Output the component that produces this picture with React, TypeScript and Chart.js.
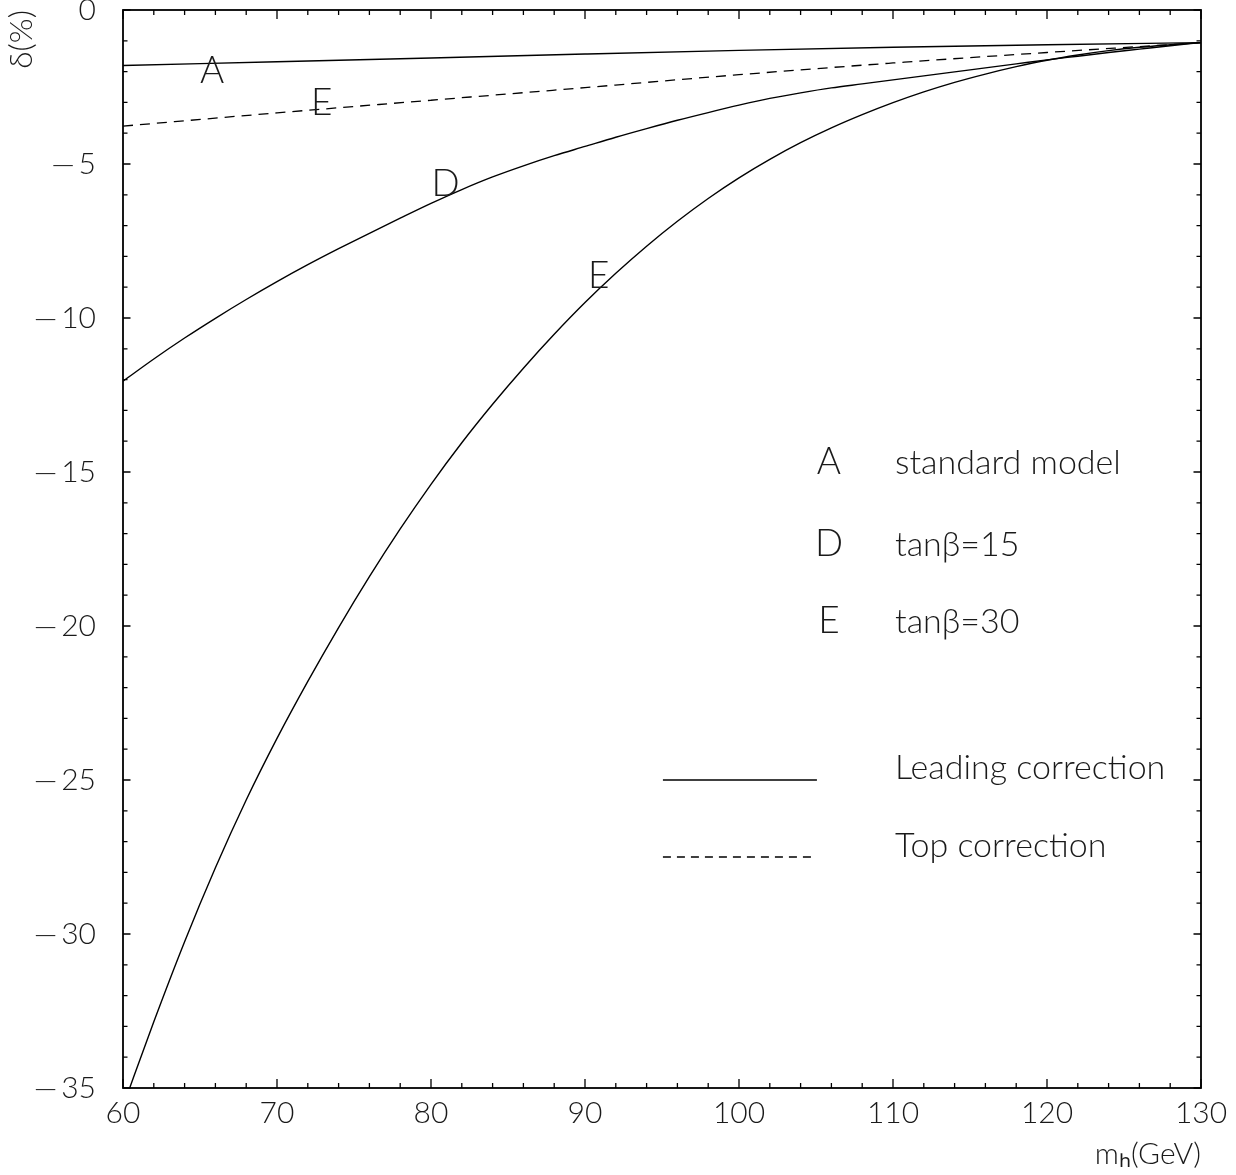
import React, { useEffect, useRef } from "react";
import { Chart, registerables } from "chart.js";

Chart.register(...registerables);

// ---- data ----
const massCoarse = [60, 70, 80, 90, 100, 110, 120, 130];
const massFine = [
  60, 62, 64, 66, 68, 70, 72, 74, 76, 78, 80, 82, 84, 86, 88, 90, 92, 94,
  96, 98, 100, 102, 104, 106, 108, 110, 112, 114, 116, 118, 120, 122, 124,
  126, 128, 130,
];
// A: standard model, leading correction
const deltaStandardModel = [-1.8, -1.68, -1.56, -1.43, -1.31, -1.21, -1.13, -1.06];
// E: tanβ=30, top correction (dashed)
const deltaTopTan30 = [-3.77, -3.34, -2.93, -2.52, -2.1, -1.72, -1.38, -1.06];
// D: tanβ=15, leading correction
const deltaLeadingTan15 = [
  -12.05, -11.33, -10.65, -10.01, -9.4, -8.82, -8.27, -7.75, -7.25, -6.76,
  -6.28, -5.83, -5.42, -5.06, -4.73, -4.43, -4.13, -3.85, -3.58, -3.33,
  -3.09, -2.87, -2.69, -2.53, -2.4, -2.27, -2.14, -2.01, -1.88, -1.75,
  -1.62, -1.5, -1.38, -1.27, -1.16, -1.06,
];
// E: tanβ=30, leading correction
const deltaLeadingTan30 = [
  -35.6, -32.85, -30.25, -27.85, -25.65, -23.65, -21.8, -20.05, -18.4, -16.85,
  -15.4, -14.05, -12.8, -11.63, -10.53, -9.5, -8.55, -7.67, -6.86, -6.12,
  -5.45, -4.85, -4.31, -3.83, -3.4, -3.01, -2.66, -2.35, -2.08, -1.84,
  -1.63, -1.46, -1.32, -1.21, -1.13, -1.06,
];
const curveLetters = ["A", "E", "D", "E"];
const legendLetters = ["A", "D", "E"];
const legendNames = ["standard model", "tanβ=15", "tanβ=30"];
const lineLegendNames = ["Leading correction", "Top correction"];
const xTitle = "mₕ(GeV)";
const yTitle = "δ(%)";

const FONT = "Lato, 'DejaVu Sans', sans-serif";
const INK = "#1a1a1a";

const toPoints = (xs: number[], ys: number[]) => xs.map((x, i) => ({ x, y: ys[i] }));

const frameTicksPlugin = {
  id: "frameTicks",
  afterDraw(chart: any) {
    const { ctx, chartArea: a, scales } = chart;
    const x = scales.x;
    const y = scales.y;
    ctx.save();
    ctx.strokeStyle = "#000";
    ctx.lineWidth = 1.8;
    ctx.strokeRect(a.left, a.top, a.right - a.left, a.bottom - a.top);
    ctx.lineWidth = 1.3;
    ctx.beginPath();
    for (let v = x.min; v <= x.max + 1e-9; v += 2) {
      const px = x.getPixelForValue(v);
      const len = Math.abs(v % 10) < 1e-9 ? 9 : 5;
      ctx.moveTo(px, a.bottom);
      ctx.lineTo(px, a.bottom - len);
      ctx.moveTo(px, a.top);
      ctx.lineTo(px, a.top + len);
    }
    for (let v = y.min; v <= y.max + 1e-9; v += 1) {
      const py = y.getPixelForValue(v);
      const len = Math.abs(v % 5) < 1e-9 ? 7.5 : 4.5;
      ctx.moveTo(a.left, py);
      ctx.lineTo(a.left + len, py);
      ctx.moveTo(a.right, py);
      ctx.lineTo(a.right - len, py);
    }
    ctx.stroke();
    ctx.restore();
  },
};

const annotationPlugin = {
  id: "curveNotes",
  afterDatasetsDraw(chart: any, _args: any, opts: any) {
    const { ctx, scales } = chart;
    const x = scales.x;
    const y = scales.y;
    ctx.save();
    ctx.fillStyle = INK;
    ctx.textBaseline = "alphabetic";
    // letters on the curves
    ctx.font = `300 ${opts.letterSize}px ${FONT}`;
    ctx.textAlign = "center";
    opts.curveSpots.forEach((s: any, i: number) => {
      ctx.fillText(curveLetters[i], x.getPixelForValue(s.x), y.getPixelForValue(s.y));
    });
    // letter legend
    opts.legendRows.forEach((yy: number, i: number) => {
      ctx.font = `300 ${opts.letterSize}px ${FONT}`;
      ctx.textAlign = "center";
      ctx.fillText(legendLetters[i], x.getPixelForValue(opts.legendLetterX), y.getPixelForValue(yy));
      ctx.font = `300 ${opts.nameSize}px ${FONT}`;
      ctx.textAlign = "left";
      ctx.fillText(legendNames[i], x.getPixelForValue(opts.legendTextX), y.getPixelForValue(yy));
    });
    // line-style legend
    opts.lineRows.forEach((row: any, i: number) => {
      ctx.strokeStyle = "#000";
      ctx.lineWidth = 1.4;
      ctx.setLineDash(i === 0 ? [] : [8, 6]);
      ctx.beginPath();
      ctx.moveTo(x.getPixelForValue(opts.sampleFrom), y.getPixelForValue(row.line));
      ctx.lineTo(x.getPixelForValue(opts.sampleTo), y.getPixelForValue(row.line));
      ctx.stroke();
      ctx.setLineDash([]);
      ctx.font = `300 ${opts.lineNameSize}px ${FONT}`;
      ctx.textAlign = "left";
      ctx.fillText(lineLegendNames[i], x.getPixelForValue(opts.legendTextX), y.getPixelForValue(row.text));
    });
    ctx.restore();
  },
};

export default function App() {
  const canvasRef = useRef<HTMLCanvasElement | null>(null);

  useEffect(() => {
    if (!canvasRef.current) return;
    const tickFont = { family: FONT, size: 30, weight: "300" as any };
    const titleFont = { family: FONT, size: 32, weight: "300" as any };
    const chart = new Chart(canvasRef.current, {
      type: "line",
      data: {
        datasets: [
          {
            label: "A standard model",
            data: toPoints(massCoarse, deltaStandardModel),
            borderColor: "#000",
            borderWidth: 1.4,
            pointRadius: 0,
            cubicInterpolationMode: "monotone",
          },
          {
            label: "E tanβ=30 top correction",
            data: toPoints(massCoarse, deltaTopTan30),
            borderColor: "#000",
            borderWidth: 1.3,
            borderDash: [10, 7],
            pointRadius: 0,
            cubicInterpolationMode: "monotone",
          },
          {
            label: "D tanβ=15",
            data: toPoints(massFine, deltaLeadingTan15),
            borderColor: "#000",
            borderWidth: 1.4,
            pointRadius: 0,
            cubicInterpolationMode: "monotone",
          },
          {
            label: "E tanβ=30",
            data: toPoints(massFine, deltaLeadingTan30),
            borderColor: "#000",
            borderWidth: 1.4,
            pointRadius: 0,
            cubicInterpolationMode: "monotone",
          },
        ],
      },
      options: {
        animation: false,
        responsive: false,
        events: [],
        layout: { padding: { top: 10, right: 35, bottom: 0, left: 0 } },
        scales: {
          x: {
            type: "linear",
            position: "bottom",
            min: 60,
            max: 130,
            grid: { display: false, drawTicks: false },
            border: { display: false },
            ticks: {
              stepSize: 10,
              font: tickFont,
              color: INK,
              padding: 7,
              maxRotation: 0,
              autoSkip: false,
            },
            title: {
              display: true,
              text: xTitle,
              align: "end",
              color: INK,
              font: tickFont,
              padding: { top: 0, bottom: 3 },
            },
            afterFit(s: any) {
              s.height = 87;
              s.paddingLeft = 0;
              s.paddingRight = 0;
            },
          },
          y: {
            type: "linear",
            min: -35,
            max: 0,
            grid: { display: false, drawTicks: false },
            border: { display: false },
            ticks: {
              stepSize: 5,
              font: tickFont,
              color: INK,
              padding: 27,
              callback: (v: any) => (Number(v) < 0 ? "\u2014\u2009" + Math.abs(Number(v)) : String(v)),
            },
            title: {
              display: true,
              text: yTitle,
              align: "end",
              color: INK,
              font: titleFont,
              padding: { top: 2, bottom: 0 },
            },
            afterFit(s: any) {
              s.width = 123;
              s.paddingTop = 0;
              s.paddingBottom = 0;
            },
          },
        },
        plugins: {
          legend: { display: false },
          tooltip: { enabled: false },
          curveNotes: {
            letterSize: 37,
            nameSize: 34,
            lineNameSize: 34,
            curveSpots: [
              { x: 65.79, y: -2.38 },
              { x: 72.9, y: -3.41 },
              { x: 80.95, y: -6.05 },
              { x: 90.89, y: -9.02 },
            ],
            legendLetterX: 105.84,
            legendTextX: 110.13,
            legendRows: [-15.05, -17.72, -20.22],
            sampleFrom: 95.06,
            sampleTo: 105.06,
            lineRows: [
              { line: -25.0, text: -24.98 },
              { line: -27.5, text: -27.5 },
            ],
          },
        } as any,
      },
      plugins: [frameTicksPlugin, annotationPlugin],
    });
    return () => chart.destroy();
  }, []);

  return (
    <div style={{ position: "absolute", left: 0, top: 0, width: 1236, height: 1175, background: "#fff" }}>
      <canvas ref={canvasRef} width={1236} height={1175} style={{ display: "block" }} />
    </div>
  );
}
